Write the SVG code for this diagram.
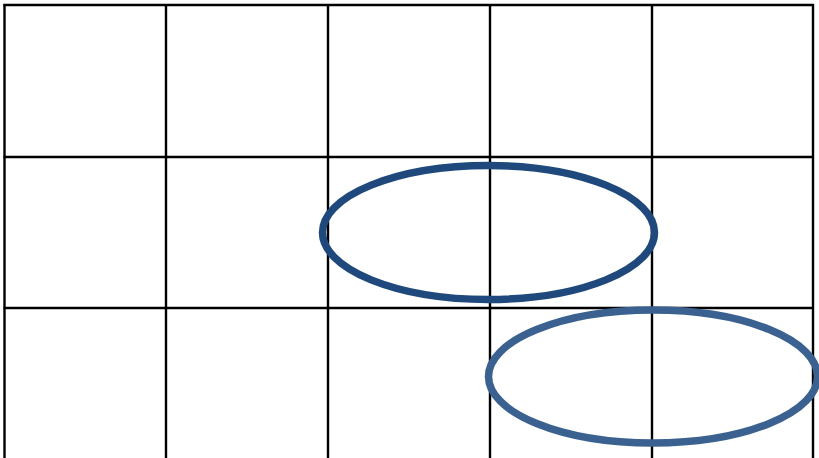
<svg xmlns="http://www.w3.org/2000/svg" width="819" height="458" viewBox="0 0 819 458">
<style>
.g{stroke:#000;stroke-width:2.4;fill:none}
.e{fill:none;stroke-width:7.5}
</style>
<rect width="819" height="458" fill="#fff"/>
<g id="grid">
<line class="g" x1="3.5" y1="5" x2="814" y2="5"/>
<line class="g" x1="3.5" y1="157" x2="814" y2="157"/>
<line class="g" x1="3.5" y1="308" x2="814" y2="308"/>
<line class="g" x1="4.5" y1="4" x2="4.5" y2="458"/>
<line class="g" x1="166" y1="4" x2="166" y2="458"/>
<line class="g" x1="328" y1="4" x2="328" y2="458"/>
<line class="g" x1="490" y1="4" x2="490" y2="458"/>
<line class="g" x1="652" y1="4" x2="652" y2="458"/>
<line class="g" x1="813" y1="4" x2="813" y2="458"/>
</g>
<g id="ellipse1"><ellipse class="e" cx="488.5" cy="232.5" rx="166" ry="67" stroke="#1f497d"/></g>
<g id="ellipse2"><ellipse class="e" cx="653" cy="376.5" rx="164.5" ry="66.5" stroke="#3a618f"/></g>
</svg>
